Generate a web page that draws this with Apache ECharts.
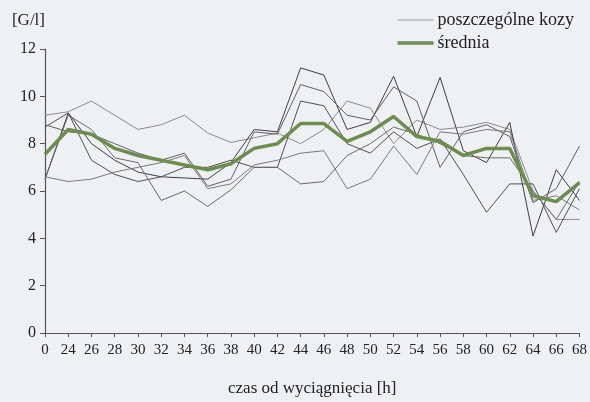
<!DOCTYPE html>
<html>
<head>
<meta charset="utf-8">
<script src="https://cdn.jsdelivr.net/npm/echarts@6/dist/echarts.min.js"></script>
<style>
  html, body { margin: 0; padding: 0; background: #eef0f4; }
  #main { width: 590px; height: 402px; }
</style>
</head>
<body>
<div id="main"></div>
<script>
var chartDom = document.getElementById('main');
var myChart = echarts.init(chartDom);
var option;

// time after removal [h]
const hours = ['0', '24', '26', '28', '30', '32', '34', '36', '38', '40', '42', '44',
               '46', '48', '50', '52', '54', '56', '58', '60', '62', '64', '66', '68'];

// individual goats (approximate)
const goat1 = [9.2, 9.35, 9.8, 9.2, 8.6, 8.8, 9.2, 8.45, 8.05, 8.25, 8.45, 8.0, 8.6, 9.8, 9.5, 8.0, 9.0, 8.6, 8.7, 8.9, 8.6, 6.0, 4.8, 4.8];
const goat2 = [6.5, 9.3, 8.0, 7.3, 6.8, 6.6, 6.55, 6.5, 7.2, 8.6, 8.5, 11.2, 10.9, 8.6, 8.9, 10.85, 8.3, 10.8, 7.7, 7.2, 8.9, 4.1, 6.9, 5.6];
const goat3 = [8.8, 8.5, 8.4, 8.0, 7.6, 7.3, 7.6, 6.2, 6.5, 8.5, 8.4, 10.5, 10.2, 9.2, 9.0, 10.4, 9.8, 7.0, 8.5, 8.8, 8.3, 5.5, 6.1, 7.9];
const goat4 = [8.7, 9.3, 7.3, 6.7, 6.4, 6.6, 7.0, 7.0, 7.3, 7.0, 7.0, 9.8, 9.6, 8.0, 7.6, 8.5, 7.8, 8.2, 6.7, 5.1, 6.3, 6.3, 4.25, 6.1];
const goat5 = [6.6, 6.4, 6.5, 6.8, 7.0, 7.2, 7.5, 6.1, 6.3, 7.1, 7.3, 7.6, 7.7, 6.1, 6.5, 7.9, 6.7, 8.5, 8.4, 8.6, 8.5, 5.6, 5.8, 5.2];
const goat6 = [6.5, 9.2, 8.6, 7.4, 7.2, 5.6, 6.0, 5.35, 6.05, 7.0, 7.0, 6.3, 6.4, 7.5, 8.0, 8.7, 8.4, 8.0, 7.5, 7.4, 7.4, 6.0, 4.8, 6.4];

// mean
const mean = [7.55, 8.6, 8.4, 7.8, 7.5, 7.3, 7.1, 6.9, 7.15, 7.8, 8.0, 8.85, 8.85, 8.1, 8.5, 9.15, 8.3, 8.1, 7.5, 7.8, 7.8, 5.8, 5.55, 6.35];

const goats = [goat1, goat2, goat3, goat4, goat5, goat6];
const goatColors = ['#8a8a8e', '#3e3e42', '#606064', '#505054', '#7a7a7e', '#6a6a6e'];

const fontFamily = '"Liberation Serif", "DejaVu Serif", serif';

const series = goats.map(function (g, i) {
    return {
        name: 'poszczególne kozy',
        type: 'line',
        data: g,
        symbol: 'none',
        lineStyle: { color: goatColors[i], width: 1 },
        itemStyle: { color: goatColors[i] },
        z: 2
    };
});
series.push({
    name: 'średnia',
    type: 'line',
    data: mean,
    symbol: 'none',
    lineStyle: { color: '#6b8e4e', width: 3.5 },
    itemStyle: { color: '#6b8e4e' },
    z: 5
});

option = {
    backgroundColor: '#eef0f4',
    animation: false,
    textStyle: { fontFamily: fontFamily, color: '#222' },
    grid: { left: 45, right: 8, top: 49, bottom: 62 },
    legend: {
        orient: 'vertical',
        right: 11,
        top: 6,
        itemWidth: 36,
        itemHeight: 4,
        itemGap: 5,
        textStyle: { fontFamily: fontFamily, fontSize: 18, color: '#222', padding: [0, 0, 0, -1] },
        data: [
            { name: 'poszczególne kozy', itemStyle: { opacity: 0 }, lineStyle: { color: '#9a9a9e', width: 1 } },
            { name: 'średnia', itemStyle: { opacity: 0 }, lineStyle: { color: '#6b8e4e', width: 3.5 } }
        ]
    },
    xAxis: {
        type: 'category',
        data: hours,
        boundaryGap: false,
        name: 'czas od wyciągnięcia [h]',
        nameLocation: 'middle',
        nameGap: 47,
        nameTextStyle: { fontFamily: fontFamily, fontSize: 17, color: '#222' },
        axisLine: { lineStyle: { color: '#555', width: 1.2 } },
        axisTick: { show: true, length: 4, lineStyle: { color: '#555' } },
        axisLabel: { fontSize: 15, color: '#222', margin: 10, interval: 0 },
        splitLine: { show: false }
    },
    yAxis: {
        type: 'value',
        min: 0,
        max: 12,
        interval: 2,
        name: '[G/l]',
        nameLocation: 'end',
        nameGap: 20,
        nameTextStyle: { fontFamily: fontFamily, fontSize: 17, color: '#222', align: 'right', padding: [0, 0, 0, 0] },
        axisLine: { show: true, lineStyle: { color: '#555', width: 1.2 } },
        axisTick: { show: true, length: 5, lineStyle: { color: '#555' } },
        axisLabel: { fontSize: 16, color: '#222', margin: 9 },
        splitLine: { show: false }
    },
    series: series
};

myChart.setOption(option);
</script>
</body>
</html>
